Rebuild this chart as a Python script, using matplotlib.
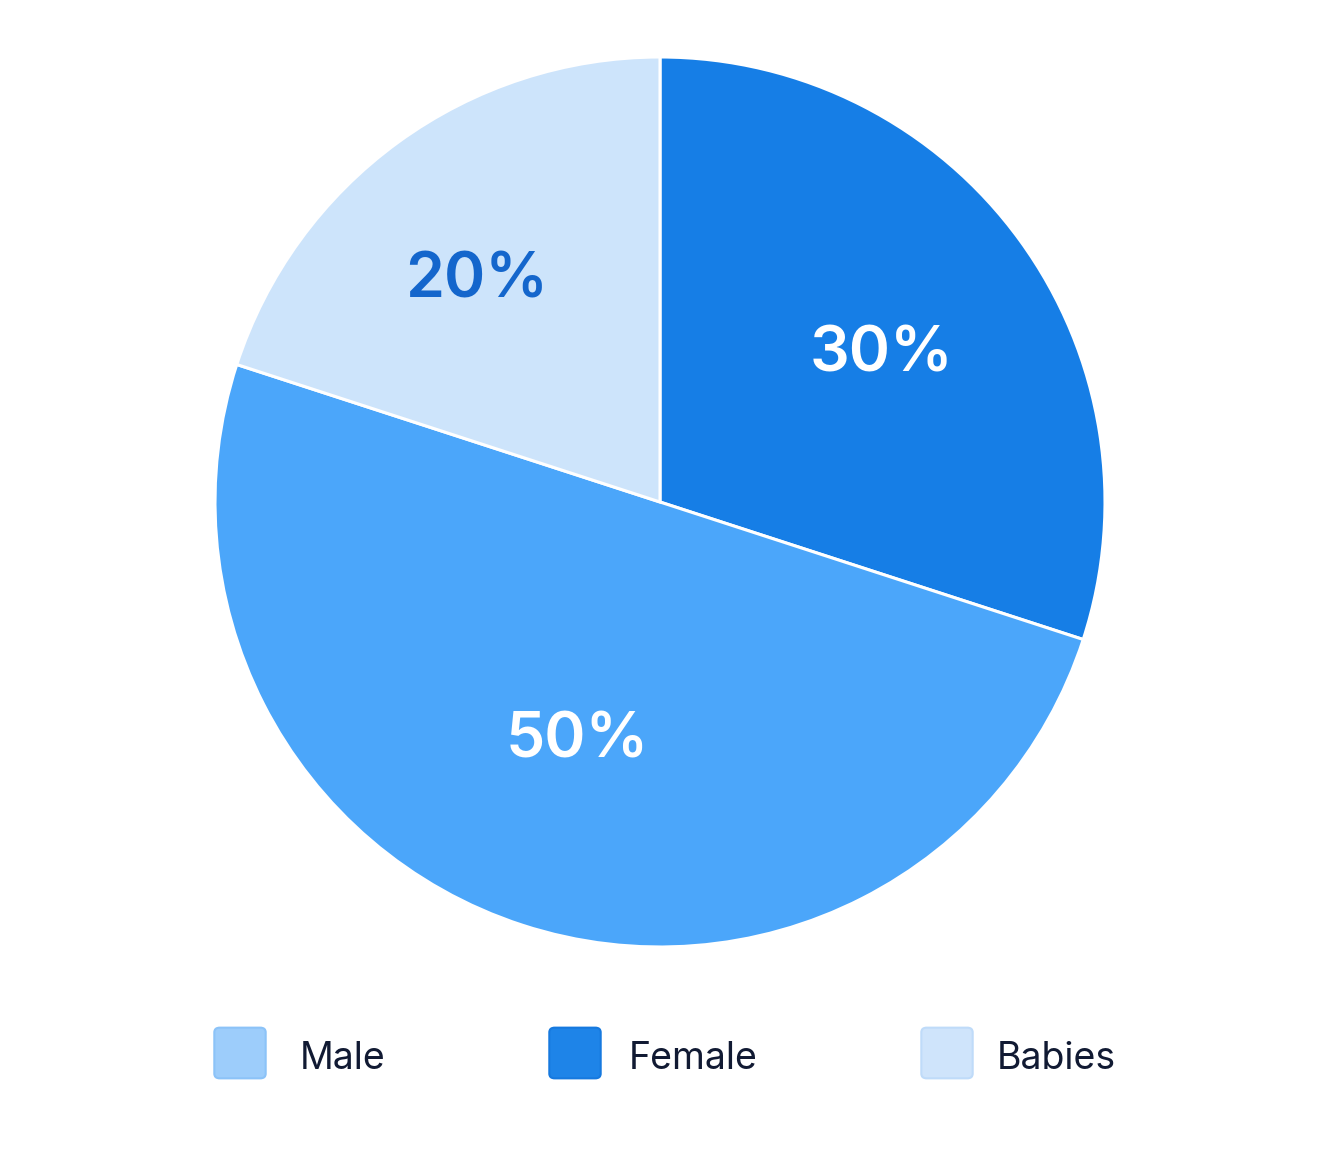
import matplotlib
matplotlib.use("Agg")
import matplotlib.pyplot as plt
import matplotlib.transforms as mtransforms
import numpy as np
from matplotlib.patches import FancyBboxPatch

# Data (pie order: clockwise from 12 o'clock)
categories = ["Female", "Male", "Babies"]
values = [30, 50, 20]
slice_colors = ["#167EE6", "#4BA6FA", "#CDE4FB"]
label_colors = ["white", "white", "#1466CC"]
# label placement (radius fraction, angular offset in degrees)
label_radius = [0.605, 0.555, 0.655]
label_dangle = [-1.3, -1.5, 3.0]

# Legend
legend_labels = ["Male", "Female", "Babies"]
legend_colors = ["#9DCDFB", "#1E84E8", "#CFE4FB"]
legend_edges = ["#8CC3F8", "#1679DF", "#BFDBF9"]

W, H = 1343, 1171
fig = plt.figure(figsize=(W / 100, H / 100), dpi=100)
fig.patch.set_facecolor("white")

cx, cy, r = 660, 502, 445
ax = fig.add_axes([(cx - r) / W, (H - cy - r) / H, 2 * r / W, 2 * r / H])

wedges, texts, autotexts = ax.pie(
    values, colors=slice_colors, startangle=90, counterclock=False,
    radius=1.0, autopct=lambda p: f"{p:.0f}%", pctdistance=0.6,
    wedgeprops=dict(edgecolor="white", linewidth=2.2),
    textprops=dict(family=["Inter", "DejaVu Sans"], fontsize=45, fontweight="semibold"),
)
shift = mtransforms.ScaledTranslation(0, -6 / 100, fig.dpi_scale_trans)
for w, t, c, lr, da in zip(wedges, autotexts, label_colors, label_radius, label_dangle):
    t.set_color(c)
    mid = np.deg2rad((w.theta1 + w.theta2) / 2 + da)
    t.set_position((lr * np.cos(mid), lr * np.sin(mid)))
    t.set_transform(ax.transData + shift)
ax.set_xlim(-1, 1)
ax.set_ylim(-1, 1)
ax.set_aspect("equal")
ax.axis("off")

# Legend drawn in figure coordinates
lx = [214, 549, 921]
tx = [300, 629, 997]
ly = 1027
sw = 52
for x, t, lab, fc, ec in zip(lx, tx, legend_labels, legend_colors, legend_edges):
    box = FancyBboxPatch(((x + 3) / W, (H - ly - sw + 3) / H), (sw - 6) / W, (sw - 6) / H,
                         boxstyle="round,pad=0.002,rounding_size=0.004",
                         transform=fig.transFigure, facecolor=fc, edgecolor=ec,
                         linewidth=1.5)
    fig.patches.append(box)
    fig.text(t / W, (H - ly - sw / 2 - 6) / H, lab, ha="left", va="center",
             fontsize=27, color="#111A33", family=["Inter", "DejaVu Sans"])

fig.savefig("out.png", dpi=100, facecolor="white")
